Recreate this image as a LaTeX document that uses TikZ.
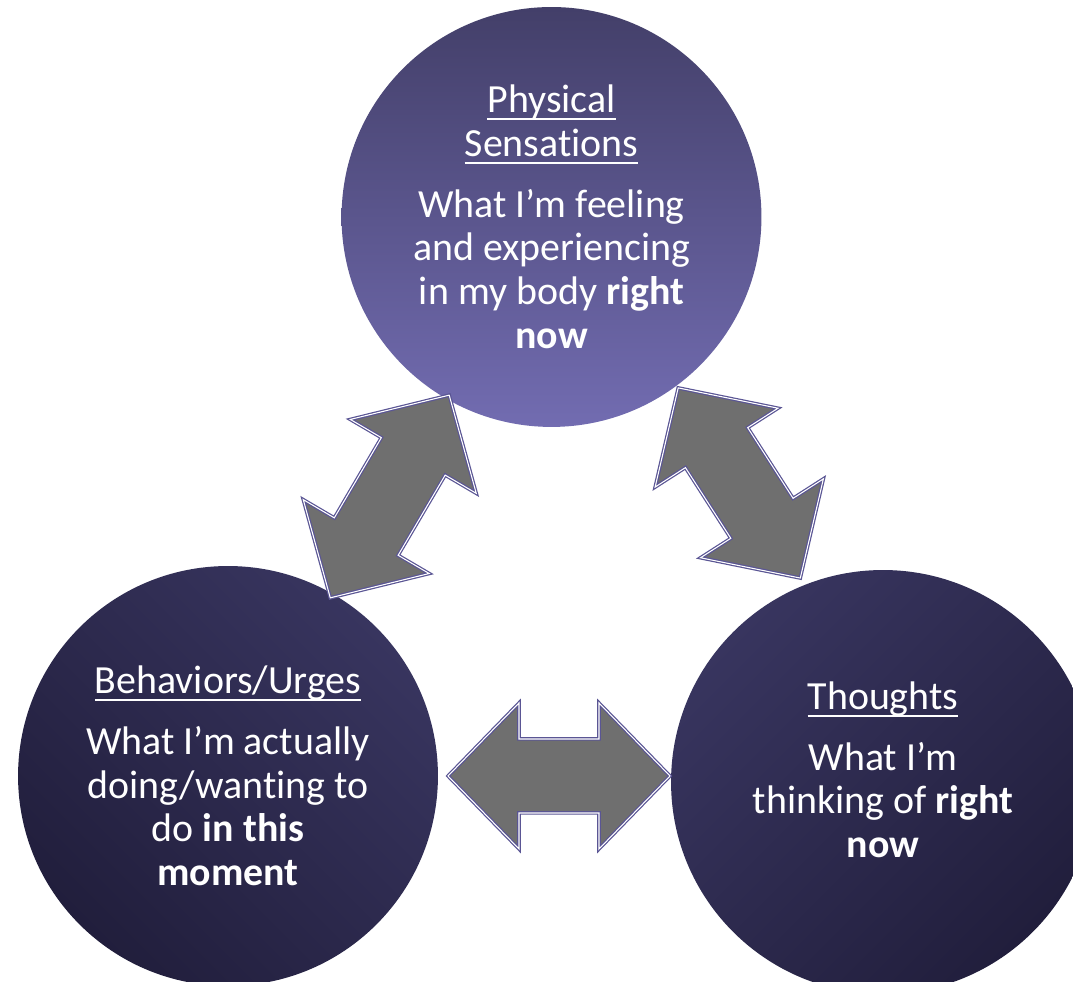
\documentclass[tikz,border=0pt]{standalone}
\usepackage{fontspec}
\setmainfont{Carlito}[Ligatures={NoCommon,NoRare}]
\usetikzlibrary{calc}

\definecolor{physTop}{HTML}{433F69}
\definecolor{physBot}{HTML}{726CB1}
\definecolor{deepLight}{HTML}{38355F}
\definecolor{deepDark}{HTML}{211E3C}
\definecolor{arrowgray}{HTML}{6F6F6F}
\definecolor{arrowrim}{HTML}{5A5594}

% underlined heading
\newcommand{\headline}[1]{\setbox0=\hbox{#1}\rlap{\rule[-3.95pt]{\wd0}{1.1pt}}\box0}
% keep t and i apart
\newcommand{\tsep}{t\kern0pt }

\tikzset{
  bubble/.style={circle, inner sep=0pt, minimum size=8.4cm, text=white,
    align=center, font=\fontsize{22.7pt}{24.9pt}\selectfont},
  twowayfill/.style={fill=arrowgray, draw=arrowrim, double=white,
    double distance=0.6pt, line width=0.7pt},
  pics/twoway/.style={code={
    \path[twowayfill] (-#1,0) -- (-#1+71,73) -- (-#1+71,37) -- (#1-71,37)
      -- (#1-71,73) -- (#1,0) -- (#1-71,-73) -- (#1-71,-37)
      -- (-#1+71,-37) -- (-#1+71,-73) -- cycle;
  }}
}

\begin{document}
\begin{tikzpicture}[x=0.02cm, y=0.02cm]
  \useasboundingbox (0,0) rectangle (1073,982);
  \fill[white] (0,0) rectangle (1073,982);
  \clip (0,0) rectangle (1073,982);

  % the three circles
  \node[bubble, top color=physTop, bottom color=physBot] (phys) at (551.5,765)
    {\headline{Physical}\\\headline{Sensa\tsep ions}\\[9.5pt]What I’m feeling\\and experiencing\\in my body \textbf{right}\\\textbf{now}};
  \node[bubble, top color=deepLight, bottom color=deepDark, shading angle=-45] (beh) at (228,206)
    {\headline{Behaviors/Urges}\\[9.5pt]What I’m actually\\doing/wan\tsep ing to\\do \textbf{in this}\\\textbf{moment}};
  \node[bubble, minimum size=8.48cm, top color=deepLight, bottom color=deepDark, shading angle=45] (thou) at (883,200)
    {\headline{Thoughts}\\[9.5pt]What I’m\\thinking of \textbf{right}\\\textbf{now}\rule[-14pt]{0pt}{0pt}};

  % two-way arrows between them
  \coordinate (pb) at ($(phys)!0.5!(beh)$);
  \coordinate (pt) at ($(phys)!0.5!(thou)+(22,16.5)$);
  \coordinate (bt) at ($(beh)!0.5!(thou)+(3.5,3)$);

  \pic[rotate=59.6] at (pb) {twoway=117.5};
  \pic[rotate=-57.3] at (pt) {twoway=113};
  \pic at (bt) {twoway=111};
\end{tikzpicture}
\end{document}
